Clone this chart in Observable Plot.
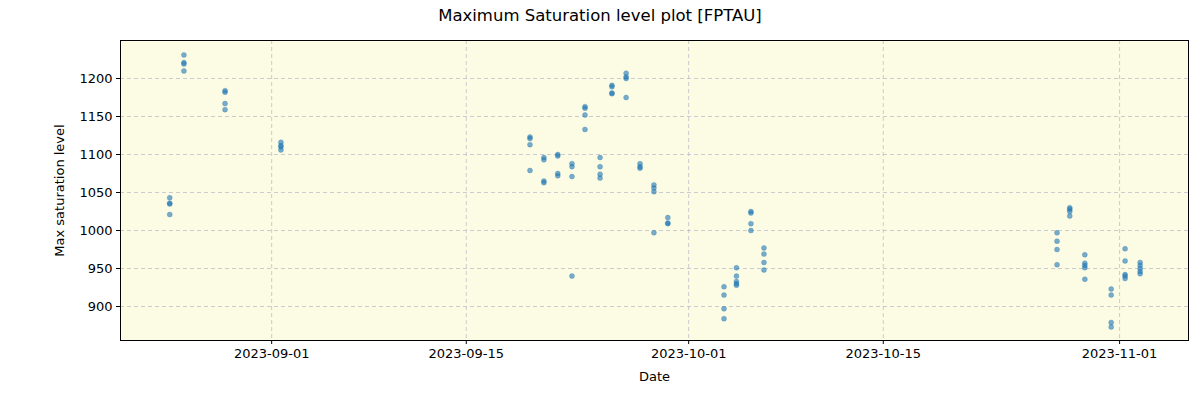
<!DOCTYPE html>
<html>
<head>
<meta charset="utf-8">
<script src="https://cdn.jsdelivr.net/npm/d3@7"></script>
<script src="https://cdn.jsdelivr.net/npm/@observablehq/plot@0.6"></script>
<style>
  body { margin: 0; background: #fff; font-family: "DejaVu Sans", sans-serif; }
  #title { height: 32px; line-height: 32px; text-align: center; font-size: 16.5px; color: #000; }
  #chart svg { display: block; }
</style>
</head>
<body>
<div id="title">Maximum Saturation level plot [FPTAU]</div>
<div id="chart"></div>
<script>
// observation times (UTC) and max saturation levels, one value per point
const times = [
  "2023-08-24T16:00","2023-08-24T16:00","2023-08-24T16:00","2023-08-24T16:00",
  "2023-08-25T16:30","2023-08-25T16:30","2023-08-25T16:30","2023-08-25T16:30",
  "2023-08-28T15:30","2023-08-28T15:30","2023-08-28T15:30","2023-08-28T15:30",
  "2023-09-01T16:00","2023-09-01T16:00","2023-09-01T16:00","2023-09-01T16:00",
  "2023-09-19T14:00","2023-09-19T14:00","2023-09-19T14:00","2023-09-19T14:00",
  "2023-09-20T14:00","2023-09-20T14:00","2023-09-20T14:00","2023-09-20T14:00",
  "2023-09-21T14:00","2023-09-21T14:00","2023-09-21T14:00","2023-09-21T14:00",
  "2023-09-22T14:30","2023-09-22T14:30","2023-09-22T14:30","2023-09-22T14:30",
  "2023-09-23T13:00","2023-09-23T13:00","2023-09-23T13:00","2023-09-23T13:00",
  "2023-09-24T15:00","2023-09-24T15:00","2023-09-24T15:00","2023-09-24T15:00",
  "2023-09-25T11:30","2023-09-25T11:30","2023-09-25T11:30","2023-09-25T11:30",
  "2023-09-26T12:00","2023-09-26T12:00","2023-09-26T12:00","2023-09-26T12:00",
  "2023-09-27T12:00","2023-09-27T12:00","2023-09-27T12:00",
  "2023-09-28T12:00","2023-09-28T12:00","2023-09-28T12:00","2023-09-28T12:00",
  "2023-09-29T12:00","2023-09-29T12:00","2023-09-29T12:00",
  "2023-10-03T13:00","2023-10-03T13:00","2023-10-03T13:00","2023-10-03T13:00",
  "2023-10-04T10:30","2023-10-04T10:30","2023-10-04T10:30","2023-10-04T10:30","2023-10-04T10:30",
  "2023-10-05T11:30","2023-10-05T11:30","2023-10-05T11:30","2023-10-05T11:30",
  "2023-10-06T10:00","2023-10-06T10:00","2023-10-06T10:00","2023-10-06T10:00",
  "2023-10-27T12:00","2023-10-27T12:00","2023-10-27T12:00","2023-10-27T12:00",
  "2023-10-28T10:00","2023-10-28T10:00","2023-10-28T10:00","2023-10-28T10:00",
  "2023-10-29T12:00","2023-10-29T12:00","2023-10-29T12:00","2023-10-29T12:00","2023-10-29T12:00",
  "2023-10-31T09:30","2023-10-31T09:30","2023-10-31T09:30","2023-10-31T09:30",
  "2023-11-01T09:30","2023-11-01T09:30","2023-11-01T09:30","2023-11-01T09:30","2023-11-01T09:30",
  "2023-11-02T11:30","2023-11-02T11:30","2023-11-02T11:30","2023-11-02T11:30","2023-11-02T11:30"
];
const levels = [
  1043, 1036, 1035, 1021,
  1231, 1221, 1219, 1210,
  1184, 1182, 1167, 1159,
  1116, 1112, 1110, 1106,
  1123, 1121, 1113, 1079,
  1096, 1093, 1065, 1063,
  1100, 1098, 1075, 1072,
  1088, 1084, 1071, 940,
  1163, 1161, 1152, 1133,
  1096, 1084, 1074, 1069,
  1191, 1189, 1181, 1180,
  1207, 1202, 1200, 1175,
  1088, 1084, 1082,
  1060, 1056, 1051, 997,
  1017, 1010, 1009,
  926, 915, 897, 884,
  951, 940, 933, 930, 928,
  1025, 1023, 1009, 1000,
  977, 969, 958, 948,
  997, 986, 975, 955,
  1030, 1028, 1025, 1019,
  968, 957, 954, 951, 936,
  923, 915, 879, 873,
  976, 960, 942, 940, 937,
  958, 954, 950, 946, 943
];
const xTicks = ["2023-09-01", "2023-09-15", "2023-10-01", "2023-10-15", "2023-11-01"];
const yTicks = [900, 950, 1000, 1050, 1100, 1150, 1200];

const data = times.map((t, i) => ({date: new Date(t + ":00Z"), value: levels[i]}));
const xTickDates = xTicks.map(s => new Date(s + "T00:00:00Z"));
const fmt = d3.utcFormat("%Y-%m-%d");

const chart = Plot.plot({
  width: 1200,
  height: 368,
  marginTop: 8,
  marginBottom: 60,
  marginLeft: 120,
  marginRight: 12,
  style: {fontFamily: "DejaVu Sans, sans-serif", fontSize: "13px", color: "#000", background: "#fff"},
  x: {type: "utc", domain: [new Date("2023-08-21T03:00:00Z"), new Date("2023-11-05T23:00:00Z")]},
  y: {domain: [855.3, 1250]},
  marks: [
    Plot.frame({fill: "#fcfbe3", stroke: null}),
    Plot.gridX(xTickDates, {stroke: "#b8b8c8", strokeOpacity: 0.7, strokeDasharray: "4,3"}),
    Plot.gridY(yTicks, {stroke: "#b8b8c8", strokeOpacity: 0.7, strokeDasharray: "4,3"}),
    Plot.axisX(xTickDates, {tickFormat: fmt, tickSize: 4, tickPadding: 4, label: "Date", labelAnchor: "center", labelArrow: "none", labelOffset: 40, fontSize: 13}),
    Plot.axisY(yTicks, {tickFormat: d => String(d), tickSize: 4, tickPadding: 4, label: "Max saturation level", labelAnchor: "center", labelArrow: "none", labelOffset: 66, fontSize: 13}),
    Plot.dot(data, {x: "date", y: "value", r: 2.5, fill: "#1f77b4", fillOpacity: 0.6, stroke: "#1f77b4", strokeOpacity: 0.35, strokeWidth: 0.8}),
    Plot.frame({stroke: "#000", strokeWidth: 1})
  ]
});
document.getElementById("chart").appendChild(chart);
</script>
</body>
</html>
